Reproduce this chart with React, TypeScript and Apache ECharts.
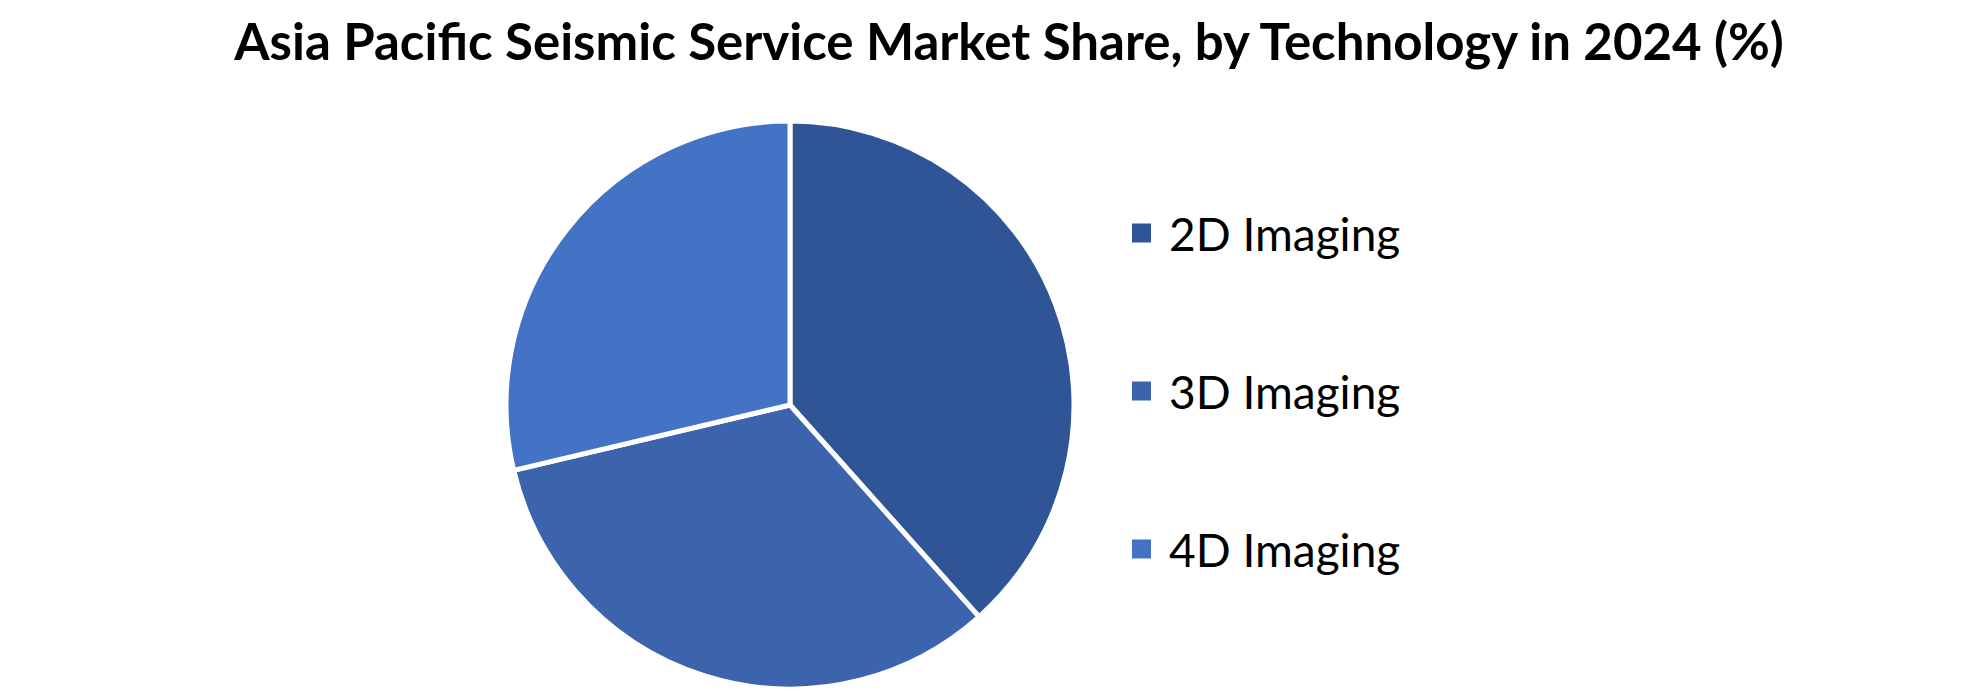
import React, { useEffect, useRef } from "react";
import * as echarts from "echarts";

const categories = ["2D Imaging", "3D Imaging", "4D Imaging"];
const shares = [38.4, 32.9, 28.7];
const colors = ["#2F5597", "#3C64AC", "#4472C4"];
const titleText = "Asia Pacific Seismic Service Market Share, by Technology in 2024 (%)";

export default function App() {
  const ref = useRef<HTMLDivElement>(null);
  useEffect(() => {
    document.body.style.margin = "0";
    const chart = echarts.init(ref.current!, null, { renderer: "svg" });
    chart.setOption({
      animation: false,
      backgroundColor: "#ffffff",
      title: {
        text: titleText,
        left: 1004,
        textAlign: "center",
        top: 10,
        textStyle: {
          fontFamily: "Lato",
          fontWeight: "bold",
          fontSize: 51,
          color: "#000000",
        },
      },
      legend: {
        orient: "vertical",
        left: 1130,
        top: 208,
        padding: 0,
        icon: "rect",
        itemWidth: 21,
        itemHeight: 21,
        itemGap: 108,
        selectedMode: false,
        data: categories,
        textStyle: {
          fontFamily: "Lato",
          fontSize: 46,
          lineHeight: 50,
          color: "#000000",
          padding: [0, 0, 0, 12],
        },
      },
      series: [
        {
          type: "pie",
          center: [790, 405],
          radius: 284,
          startAngle: 90,
          clockwise: true,
          label: { show: false },
          labelLine: { show: false },
          emphasis: { disabled: true },
          itemStyle: { borderColor: "#ffffff", borderWidth: 5 },
          data: categories.map((name, i) => ({
            name,
            value: shares[i],
            itemStyle: { color: colors[i] },
          })),
        },
      ],
    });
    return () => chart.dispose();
  }, []);
  return <div ref={ref} style={{ width: 1980, height: 694 }} />;
}
